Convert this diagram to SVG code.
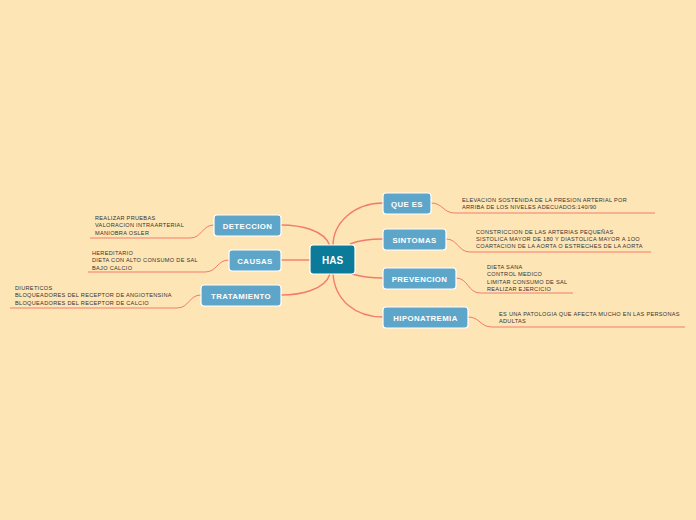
<svg xmlns="http://www.w3.org/2000/svg" width="696" height="520" viewBox="0 0 696 520">
<style>
.bg{fill:#fee5b5}
.main{fill:none;stroke:#f27c6a;stroke-width:1.4}
.leaf{fill:none;stroke:#f27c6a;stroke-width:1}
.node rect{fill:#5ea6c9;stroke:#ffffff;stroke-width:1.2}
.center rect{fill:#0b7b99;stroke:#ffffff;stroke-width:1.2}
.lbl{font-family:"Liberation Sans",Arial,sans-serif;font-weight:bold;font-size:7.8px;fill:#ffffff;text-anchor:middle;letter-spacing:0.4px}
.clbl{font-family:"Liberation Sans",Arial,sans-serif;font-weight:bold;font-size:10px;fill:#ffffff;text-anchor:middle}
.txt{font-family:"Liberation Sans",Arial,sans-serif;font-size:5.6px;fill:#333333;letter-spacing:0.3px}
</style>
<rect class="bg" x="0" y="0" width="696" height="520"/>
<g id="connectors">
<path class="main" d="M333,246 C333,222 355,203 383,203"/>
<path class="main" d="M350,244 C360,240 370,239 383,239"/>
<path class="main" d="M352,274 C362,277 370,278 383,278"/>
<path class="main" d="M333,274 C335,300 355,317 383,317"/>
<path class="main" d="M330,246 C325,230 300,225 281,225"/>
<path class="main" d="M310,260 L281,260"/>
<path class="main" d="M330,274 C325,290 300,295 281,295"/>
<path class="leaf" d="M431,203 C443,203 443,213 455,213 L655,213"/>
<path class="leaf" d="M446,239 C458,239 458,252 470,252 L651,252"/>
<path class="leaf" d="M456,278 C468,278 468,293 480,293 L573,293"/>
<path class="leaf" d="M468,317 C480,317 480,327 492,327 L685,327"/>
<path class="leaf" d="M214,225 C202,225 202,238 190,238 L90,238"/>
<path class="leaf" d="M229,260 C217,260 217,272 205,272 L88,272"/>
<path class="leaf" d="M201,295 C189,295 189,308 177,308 L10,308"/>
</g>
<g id="has" class="center"><rect x="310" y="245" width="45" height="29" rx="3"/><text class="clbl" x="332.5" y="263.5">HAS</text></g>
<g id="que-es" class="node"><rect x="383" y="193" width="48" height="21" rx="3"/><text class="lbl" x="407" y="206.5">QUE ES</text></g>
<g id="sintomas" class="node"><rect x="383" y="229" width="63" height="21" rx="3"/><text class="lbl" x="414.5" y="242.5">SINTOMAS</text></g>
<g id="prevencion" class="node"><rect x="383" y="268" width="73" height="21" rx="3"/><text class="lbl" x="419.5" y="281.5">PREVENCION</text></g>
<g id="hiponatremia" class="node"><rect x="383" y="307" width="85" height="21" rx="3"/><text class="lbl" x="425.5" y="320.5">HIPONATREMIA</text></g>
<g id="deteccion" class="node"><rect x="214" y="215" width="67" height="21" rx="3"/><text class="lbl" x="247.5" y="228.5">DETECCION</text></g>
<g id="causas" class="node"><rect x="229" y="250" width="52" height="21" rx="3"/><text class="lbl" x="255" y="263.5">CAUSAS</text></g>
<g id="tratamiento" class="node"><rect x="201" y="285" width="80" height="21" rx="3"/><text class="lbl" x="241" y="298.5">TRATAMIENTO</text></g>
<g id="que-es-text"><text class="txt" x="462"><tspan x="462" y="202">ELEVACION SOSTENIDA DE LA PRESION ARTERIAL POR</tspan><tspan x="462" y="209">ARRIBA DE LOS NIVELES ADECUADOS:140/90</tspan></text></g>
<g id="sintomas-text"><text class="txt"><tspan x="476" y="233.5">CONSTRICCION DE LAS ARTERIAS PEQUEÑAS</tspan><tspan x="476" y="240.8">SISTOLICA MAYOR DE 180 Y DIASTOLICA MAYOR A 1OO</tspan><tspan x="476" y="248.1">COARTACION DE LA AORTA O ESTRECHES DE LA AORTA</tspan></text></g>
<g id="prevencion-text"><text class="txt"><tspan x="487" y="269">DIETA SANA</tspan><tspan x="487" y="276.3">CONTROL MEDICO</tspan><tspan x="487" y="283.6">LIMITAR CONSUMO DE SAL</tspan><tspan x="487" y="290.9">REALIZAR EJERCICIO</tspan></text></g>
<g id="hiponatremia-text"><text class="txt"><tspan x="499" y="316">ES UNA PATOLOGIA QUE AFECTA MUCHO EN LAS PERSONAS</tspan><tspan x="499" y="323.3">ADULTAS</tspan></text></g>
<g id="deteccion-text"><text class="txt"><tspan x="95" y="220">REALIZAR PRUEBAS</tspan><tspan x="95" y="227.3">VALORACION INTRAARTERIAL</tspan><tspan x="95" y="234.6">MANIOBRA OSLER</tspan></text></g>
<g id="causas-text"><text class="txt"><tspan x="92" y="255">HEREDITARIO</tspan><tspan x="92" y="262.3">DIETA CON ALTO CONSUMO DE SAL</tspan><tspan x="92" y="269.6">BAJO CALCIO</tspan></text></g>
<g id="tratamiento-text"><text class="txt"><tspan x="15" y="290">DIURETICOS</tspan><tspan x="15" y="297.3">BLOQUEADORES DEL RECEPTOR DE ANGIOTENSINA</tspan><tspan x="15" y="304.6">BLOQUEADORES DEL RECEPTOR DE CALCIO</tspan></text></g>
</svg>
